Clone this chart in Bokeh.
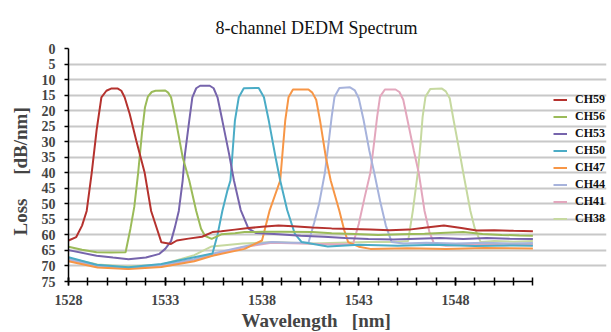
from bokeh.plotting import figure
from bokeh.models import Range1d, FixedTicker, Legend, LegendItem, Title
from bokeh.embed import file_html
from bokeh.resources import INLINE

title_text = "8-channel DEDM Spectrum"
x_label = "Wavelength\u00a0\u00a0\u00a0[nm]"
y_label = "Loss\u00a0\u00a0\u00a0\u00a0\u00a0[dB/nm]"
x_ticks = [1528, 1533, 1538, 1543, 1548]
x_minor = list(range(1528, 1553))
y_ticks = list(range(0, 80, 5))
x_lo, x_hi = 1528, 1552

channels = ["CH59", "CH56", "CH53", "CH50", "CH47", "CH44", "CH41", "CH38"]
colors = ["#b5322e", "#9bbb59", "#7664ac", "#4bacc6", "#f79646", "#a7b3dc", "#e3a7bd", "#c6d9a0"]

wl_ch59 = [1528.0, 1528.4, 1528.7, 1528.94, 1529.2, 1529.45, 1529.7, 1529.96, 1530.2, 1530.55, 1530.73, 1530.9,
           1531.16, 1531.5, 1531.93, 1532.27, 1532.6, 1532.8, 1533.3, 1533.6, 1534.2, 1534.9, 1535.44, 1535.9,
           1536.6, 1537.3, 1538.0, 1538.85, 1539.6, 1540.6, 1541.6, 1542.6, 1543.6, 1544.6, 1545.6, 1546.5,
           1547.4, 1548.3, 1549.1, 1550.0, 1551.0, 1552.0]
loss_ch59 = [61.8, 60.7, 57.0, 52.3, 40.0, 26.4, 15.7, 13.6, 12.9, 12.9, 13.6, 15.7,
             21.0, 29.6, 39.8, 52.3, 58.6, 62.4, 62.9, 61.8, 61.2, 60.6, 59.1, 58.8,
             58.3, 57.8, 57.4, 57.0, 57.2, 57.6, 57.9, 58.1, 58.3, 58.5, 58.3, 57.6,
             57.0, 57.8, 58.6, 58.5, 58.7, 58.8]

wl_ch56 = [1528.0, 1528.7, 1529.45, 1530.2, 1530.95, 1531.2, 1531.4, 1531.6, 1531.8, 1531.95, 1532.1, 1532.3,
           1532.5, 1533.0, 1533.15, 1533.3, 1533.55, 1533.9, 1534.24, 1534.6, 1534.85, 1535.05, 1535.4, 1535.9,
           1536.6, 1537.1, 1538.0, 1539.0, 1540.6, 1541.6, 1542.8, 1544.0, 1545.2, 1546.4, 1547.5, 1548.4,
           1549.4, 1550.4, 1551.3, 1552.0]
loss_ch56 = [63.8, 64.8, 65.6, 65.7, 65.6, 58.0, 51.0, 40.0, 27.0, 19.0, 15.5, 14.0,
             13.6, 13.5, 14.2, 15.7, 23.2, 35.0, 42.5, 52.3, 58.0, 60.3, 61.3, 59.8,
             59.5, 59.1, 59.0, 59.0, 59.1, 59.5, 59.7, 60.0, 59.8, 59.6, 59.3, 59.1,
             59.7, 60.0, 60.2, 60.3]

wl_ch53 = [1528.0, 1529.45, 1530.3, 1531.1, 1532.0, 1532.7, 1533.0, 1533.3, 1533.5, 1533.7, 1533.9, 1534.0,
           1534.24, 1534.4, 1534.6, 1534.8, 1535.3, 1535.5, 1535.7, 1535.95, 1536.3, 1536.55, 1536.9, 1537.3,
           1537.7, 1538.85, 1540.0, 1541.2, 1542.3, 1543.5, 1544.8, 1546.0, 1547.2, 1548.4, 1549.6, 1550.8, 1552.0]
loss_ch53 = [64.9, 66.7, 67.3, 67.8, 67.3, 66.1, 64.5, 62.0, 57.5, 52.3, 42.5, 35.0,
             23.2, 15.7, 12.8, 12.0, 12.0, 12.8, 15.7, 23.2, 34.0, 42.5, 52.0, 58.0,
             59.4, 59.8, 60.3, 60.6, 61.0, 61.3, 61.5, 61.2, 61.0, 61.3, 61.0, 61.2, 61.3]

wl_ch50 = [1528.0, 1529.45, 1531.1, 1532.8, 1534.5, 1535.44, 1535.7, 1535.95, 1536.2, 1536.37, 1536.46, 1536.6,
           1536.8, 1537.06, 1537.83, 1538.1, 1538.35, 1538.7, 1538.94, 1539.3, 1539.7, 1540.05, 1541.4, 1543.0,
           1545.0, 1547.0, 1549.0, 1551.0, 1552.0]
loss_ch50 = [67.2, 69.6, 70.4, 69.4, 67.2, 66.0, 60.0, 52.3, 46.0, 42.5, 35.0, 23.2,
             15.7, 12.8, 12.7, 15.7, 23.2, 35.0, 42.5, 52.0, 59.7, 62.3, 63.7, 63.2,
             63.5, 63.2, 63.6, 63.4, 63.5]

wl_ch47 = [1528.0, 1529.5, 1531.1, 1532.8, 1534.5, 1535.44, 1537.1, 1538.0, 1538.4, 1538.94, 1539.2, 1539.37,
           1539.6, 1540.4, 1540.6, 1540.8, 1541.0, 1541.3, 1541.55, 1542.0, 1542.25, 1542.45, 1543.0, 1543.6,
           1545.5, 1547.5, 1549.5, 1552.0]
loss_ch47 = [68.5, 70.5, 71.0, 70.3, 68.5, 66.7, 64.5, 61.8, 52.0, 42.5, 23.2, 15.7,
             13.2, 13.2, 14.2, 16.5, 23.2, 35.0, 42.5, 52.3, 58.5, 62.3, 63.8, 64.5,
             64.3, 64.5, 64.2, 64.4]

wl_ch44 = [1528.0, 1529.5, 1531.0, 1532.8, 1534.5, 1535.5, 1536.5, 1537.5, 1538.5, 1539.5, 1540.4, 1540.7,
           1540.95, 1541.25, 1541.45, 1541.6, 1541.75, 1542.0, 1542.55, 1542.8, 1543.0, 1543.25, 1543.55, 1543.8,
           1544.1, 1544.4, 1544.7, 1545.3, 1546.5, 1548.0, 1549.5, 1551.0, 1552.0]
loss_ch44 = [67.8, 70.0, 70.7, 69.8, 67.8, 66.0, 64.5, 63.2, 62.3, 62.5, 62.5, 56.0,
             50.0, 40.0, 30.0, 22.0, 15.5, 12.7, 12.5, 13.5, 16.0, 23.0, 33.0, 40.0,
             49.0, 57.0, 62.3, 62.8, 62.5, 62.8, 62.5, 62.8, 62.6]

wl_ch41 = [1528.0, 1529.5, 1531.0, 1532.8, 1534.5, 1535.5, 1537.0, 1538.5, 1540.0, 1541.5, 1542.7, 1543.0,
           1543.3, 1543.6, 1543.8, 1543.95, 1544.1, 1544.35, 1544.9, 1545.1, 1545.3, 1545.55, 1545.85, 1546.1,
           1546.4, 1546.65, 1546.9, 1547.5, 1549.0, 1550.5, 1552.0]
loss_ch41 = [68.0, 70.2, 70.8, 70.0, 68.0, 66.5, 64.0, 62.5, 62.8, 63.0, 63.0, 56.5,
             48.0, 40.0, 30.0, 22.0, 15.5, 13.2, 13.2, 14.0, 16.5, 24.0, 33.0, 40.0,
             52.3, 59.0, 63.0, 63.5, 63.0, 63.3, 63.0]

wl_ch38 = [1528.0, 1529.5, 1531.0, 1532.8, 1534.5, 1535.4, 1537.0, 1538.5, 1540.6, 1542.0, 1543.5, 1545.0,
           1545.55, 1545.8, 1546.05, 1546.2, 1546.3, 1546.45, 1546.7, 1547.3, 1547.5, 1547.7, 1547.9, 1548.2,
           1548.4, 1548.77, 1549.0, 1549.3, 1550.0, 1551.0, 1552.0]
loss_ch38 = [67.5, 69.5, 70.2, 69.6, 66.5, 63.7, 62.8, 62.3, 62.8, 62.5, 62.3, 62.3,
             62.0, 52.0, 40.0, 30.0, 22.0, 15.5, 13.0, 12.9, 13.8, 16.0, 23.0, 33.0,
             40.0, 52.3, 58.0, 62.3, 62.0, 62.2, 62.0]

series_wl = [wl_ch59, wl_ch56, wl_ch53, wl_ch50, wl_ch47, wl_ch44, wl_ch41, wl_ch38]
series_loss = [loss_ch59, loss_ch56, loss_ch53, loss_ch50, loss_ch47, loss_ch44, loss_ch41, loss_ch38]

SERIF = "Liberation Serif"

# layout (pixels)
W, H = 611, 332
left_b, right_b, top_b, bottom_b = 65, 5, 48, 51
data_px = 467  # width of the data area (1528..1552)
frame_px = W - left_b - right_b
x_view_hi = x_lo + (x_hi - x_lo) * frame_px / data_px

p = figure(width=W, height=H, output_backend="svg", toolbar_location=None,
           x_range=Range1d(x_lo, x_view_hi), y_range=Range1d(75, 0),
           min_border_left=left_b, min_border_right=right_b,
           min_border_top=top_b, min_border_bottom=bottom_b)
p.outline_line_color = None
p.background_fill_color = "white"
p.border_fill_color = "white"

p.title.text = title_text
p.title.text_font = SERIF
p.title.text_font_style = "normal"
p.title.text_font_size = "18px"
p.title.align = "left"
p.title.offset = 147
p.title.standoff = 22
p.title.text_color = "#111111"

# grid
p.xgrid.visible = False
p.ygrid.ticker = FixedTicker(ticks=y_ticks)
p.ygrid.grid_line_color = "#c8c8c8"
p.ygrid.grid_line_width = 2
p.ygrid.bounds = (x_lo, x_hi)

# axes
xa = p.xaxis[0]
xa.bounds = (x_lo, x_hi)
xa.ticker = FixedTicker(ticks=x_ticks, minor_ticks=x_minor)
xa.major_tick_in = 4
xa.major_tick_out = 4
xa.minor_tick_in = 4
xa.minor_tick_out = 4
xa.minor_tick_line_color = "black"
xa.minor_tick_line_width = 1.5
xa.major_tick_line_width = 1.5
xa.axis_line_width = 1.5
xa.axis_line_color = "black"
xa.major_label_text_font = SERIF
xa.major_label_text_font_style = "bold"
xa.major_label_text_font_size = "14px"
xa.major_label_standoff = 9

ya = p.yaxis[0]
ya.ticker = FixedTicker(ticks=y_ticks)
ya.major_tick_in = 0
ya.major_tick_out = 4
ya.minor_tick_line_color = None
ya.major_tick_line_width = 1.5
ya.axis_line_width = 1.5
ya.axis_line_color = "black"
ya.major_label_text_font = SERIF
ya.major_label_text_font_style = "bold"
ya.major_label_text_font_size = "14px"
ya.major_label_standoff = 9

p.add_layout(Title(text=x_label, align="left", offset=173, text_font=SERIF,
                   text_font_style="bold", text_font_size="19px", standoff=0), "below")
p.add_layout(Title(text=y_label, align="left", offset=46, text_font=SERIF,
                   text_font_style="bold", text_font_size="19px", standoff=15), "left")

items = []
line_rs = []
for name, col, wl, ls in zip(channels, colors, series_wl, series_loss):
    r = p.line(wl, ls, line_color=col, line_width=2)
    d = p.scatter(x=[], y=[], marker="circle", size=4, fill_color=col, line_color=col)
    line_rs.append(r)
    items.append(LegendItem(label=name, renderers=[r, d]))

rend = list(p.renderers)
lines_only = [rr for rr in rend if rr in line_rs]
others = [rr for rr in rend if rr not in line_rs]
p.renderers = others + list(reversed(lines_only))

legend = Legend(items=items, location=(485, 54), padding=0, margin=0, spacing=0,
                glyph_width=14, glyph_height=17, label_height=17, label_standoff=8,
                border_line_color=None, background_fill_alpha=0,
                label_text_font=SERIF, label_text_font_style="bold",
                label_text_font_size="12px", label_text_color="#111111")
p.add_layout(legend, "center")

open("out.html", "w").write(file_html(p, INLINE))
